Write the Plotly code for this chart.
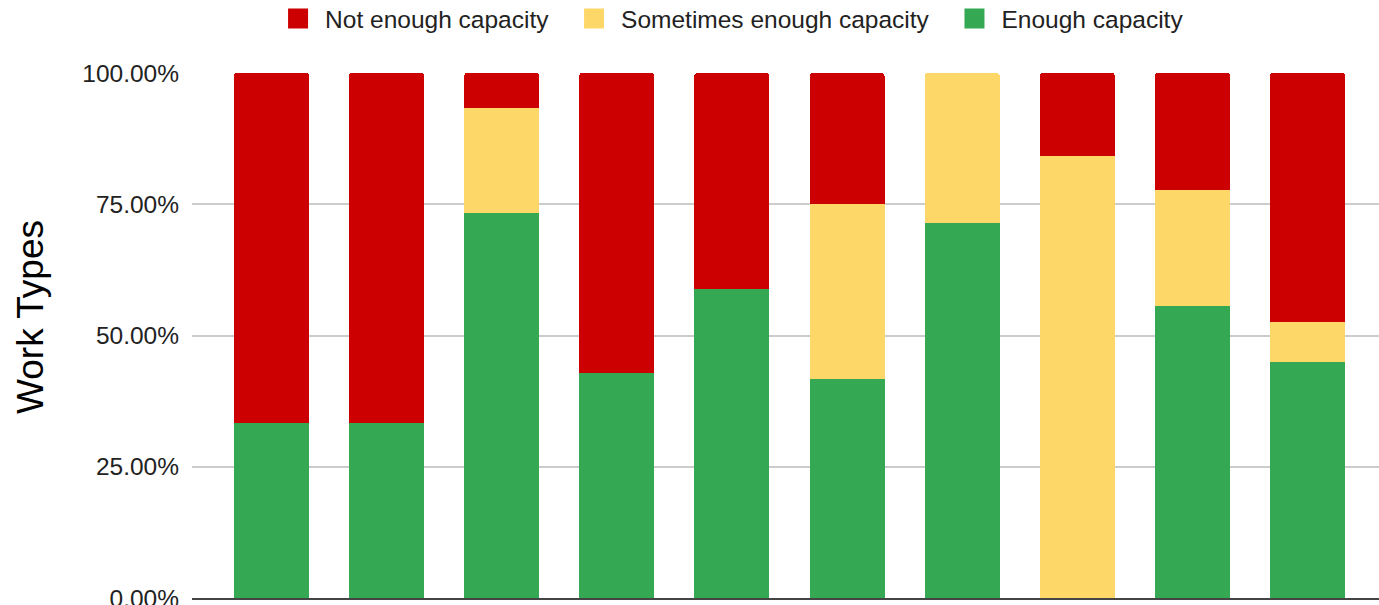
import plotly.graph_objects as go

# Share of responses per work type (fractions of 1)
work_types = [1, 2, 3, 4, 5, 6, 7, 8, 9, 10]
enough = [0.3333, 0.3333, 0.7333, 0.4286, 0.5882, 0.4167, 0.7143, 0.0, 0.5556, 0.45]
sometimes = [0.0, 0.0, 0.20, 0.0, 0.0, 0.3333, 0.2857, 0.8421, 0.2222, 0.0763]
not_enough = [0.6667, 0.6667, 0.0667, 0.5714, 0.4118, 0.25, 0.0, 0.1579, 0.2222, 0.4737]

series_names = ["Enough capacity", "Sometimes enough capacity", "Not enough capacity"]
series_values = [enough, sometimes, not_enough]
series_colors = ["#34a853", "#fdd767", "#cc0000"]
# extra trailing room after the first two legend entries
legend_pad = ["", "\u00a0\u00a0", "\u00a0\u00a0"]

fig = go.Figure()
for name, vals, color in zip(series_names, series_values, series_colors):
    fig.add_trace(go.Bar(
        x=work_types, y=vals, name=name,
        marker=dict(color=color, line=dict(width=0)),
        width=0.652, showlegend=False,
    ))

# Legend entries drawn as large square swatches
for name, color, pad in zip(series_names, series_colors, legend_pad):
    fig.add_trace(go.Scatter(
        x=[None], y=[None], mode="markers", name=name + pad,
        marker=dict(symbol="square", size=16, color=color,
                    line=dict(color=color, width=4)),
        showlegend=True,
    ))

fig.update_layout(
    width=1379, height=605,
    barmode="stack",
    barcornerradius=3,
    paper_bgcolor="white", plot_bgcolor="white",
    margin=dict(l=192, r=0, t=73, b=7, autoexpand=False),
    font=dict(family="Arial, Liberation Sans, sans-serif", color="#222222"),
    legend=dict(
        orientation="h", traceorder="reversed",
        x=0.4533, xref="paper", xanchor="center",
        y=1 + 77 / 525, yref="paper", yanchor="top",
        font=dict(size=24.5, color="#222222"),
        itemsizing="trace", itemwidth=44,
    ),
    xaxis=dict(
        range=[0.309, 10.622],
        showticklabels=False, ticks="",
        showgrid=False, zeroline=False,
        showline=True, linecolor="#444444", linewidth=2,
    ),
    yaxis=dict(
        range=[0, 1], tickvals=[0, 0.25, 0.5, 0.75, 1.0],
        tickformat=".2%",
        tickfont=dict(size=24.5, color="#222222"),
        ticklabeloverflow="allow", automargin=False,
        showgrid=True, gridcolor="#cccccc", gridwidth=1.5,
        zeroline=False, ticks="", ticklabelstandoff=12,
    ),
    annotations=[dict(
        text="Work Types", textangle=-90,
        xref="paper", x=(30 - 192) / 1187, xanchor="center",
        yref="paper", y=(598 - 317) / 525, yanchor="middle",
        showarrow=False, font=dict(size=37, color="#000000"),
    )],
)

fig.write_html("out.html")
